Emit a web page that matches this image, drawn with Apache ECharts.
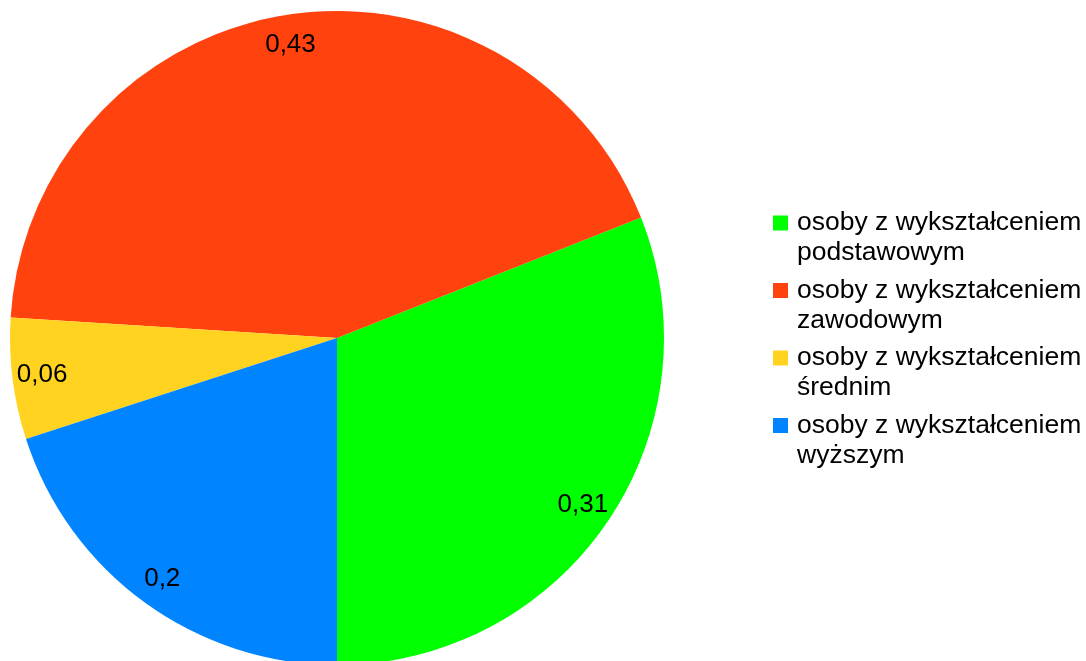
<!DOCTYPE html>
<html>
<head>
<meta charset="utf-8">
<script src="https://cdn.jsdelivr.net/npm/echarts@6/dist/echarts.min.js"></script>
<style>
  html, body { margin: 0; padding: 0; background: #ffffff; }
  #chart { width: 1086px; height: 661px; }
</style>
</head>
<body>
<div id="chart"></div>
<script>
const categories = [
  'osoby z wykształceniem\npodstawowym',
  'osoby z wykształceniem\nzawodowym',
  'osoby z wykształceniem\nśrednim',
  'osoby z wykształceniem\nwyższym'
];
const values = [0.31, 0.43, 0.06, 0.2];
const colors = ['#00ff00', '#ff420e', '#ffd320', '#0084ff'];

const FONT = '"Liberation Sans", Arial, sans-serif';
const R = 327;
const CENTER = [337, 338];

const pieData = categories.map((name, i) => ({
  name: name,
  value: values[i],
  itemStyle: { color: colors[i] }
}));

const chart = echarts.init(document.getElementById('chart'), null, { renderer: 'canvas' });
chart.setOption({
  animation: false,
  backgroundColor: '#ffffff',
  legend: {
    orient: 'vertical',
    left: 768,
    top: 173,
    itemWidth: 15,
    itemHeight: 15,
    itemGap: -22.5,
    icon: 'rect',
    selectedMode: false,
    data: categories,
    // leading blank line keeps the first text line level with the square
    formatter: name => '\n' + name,
    textStyle: {
      fontFamily: FONT,
      fontSize: 26.5,
      lineHeight: 30,
      color: '#000000',
      padding: [0, 0, 0, 4]
    }
  },
  series: [
    {
      type: 'pie',
      center: CENTER,
      radius: R,
      startAngle: -90,
      clockwise: false,
      avoidLabelOverlap: false,
      label: { show: false },
      labelLine: { show: false },
      itemStyle: { borderWidth: 0 },
      emphasis: { disabled: true },
      data: pieData
    },
    {
      type: 'pie',
      center: CENTER,
      radius: [R * 0.8, R],
      startAngle: -90,
      clockwise: false,
      silent: true,
      avoidLabelOverlap: false,
      itemStyle: { color: 'rgba(0,0,0,0)', borderWidth: 0 },
      label: {
        show: true,
        position: 'inside',
        fontFamily: FONT,
        fontSize: 26,
        color: '#000000',
        formatter: p => String(p.value).replace('.', ',')
      },
      labelLine: { show: false },
      emphasis: { disabled: true },
      data: categories.map((name, i) => ({ name: name, value: values[i] }))
    }
  ]
});
</script>
</body>
</html>
